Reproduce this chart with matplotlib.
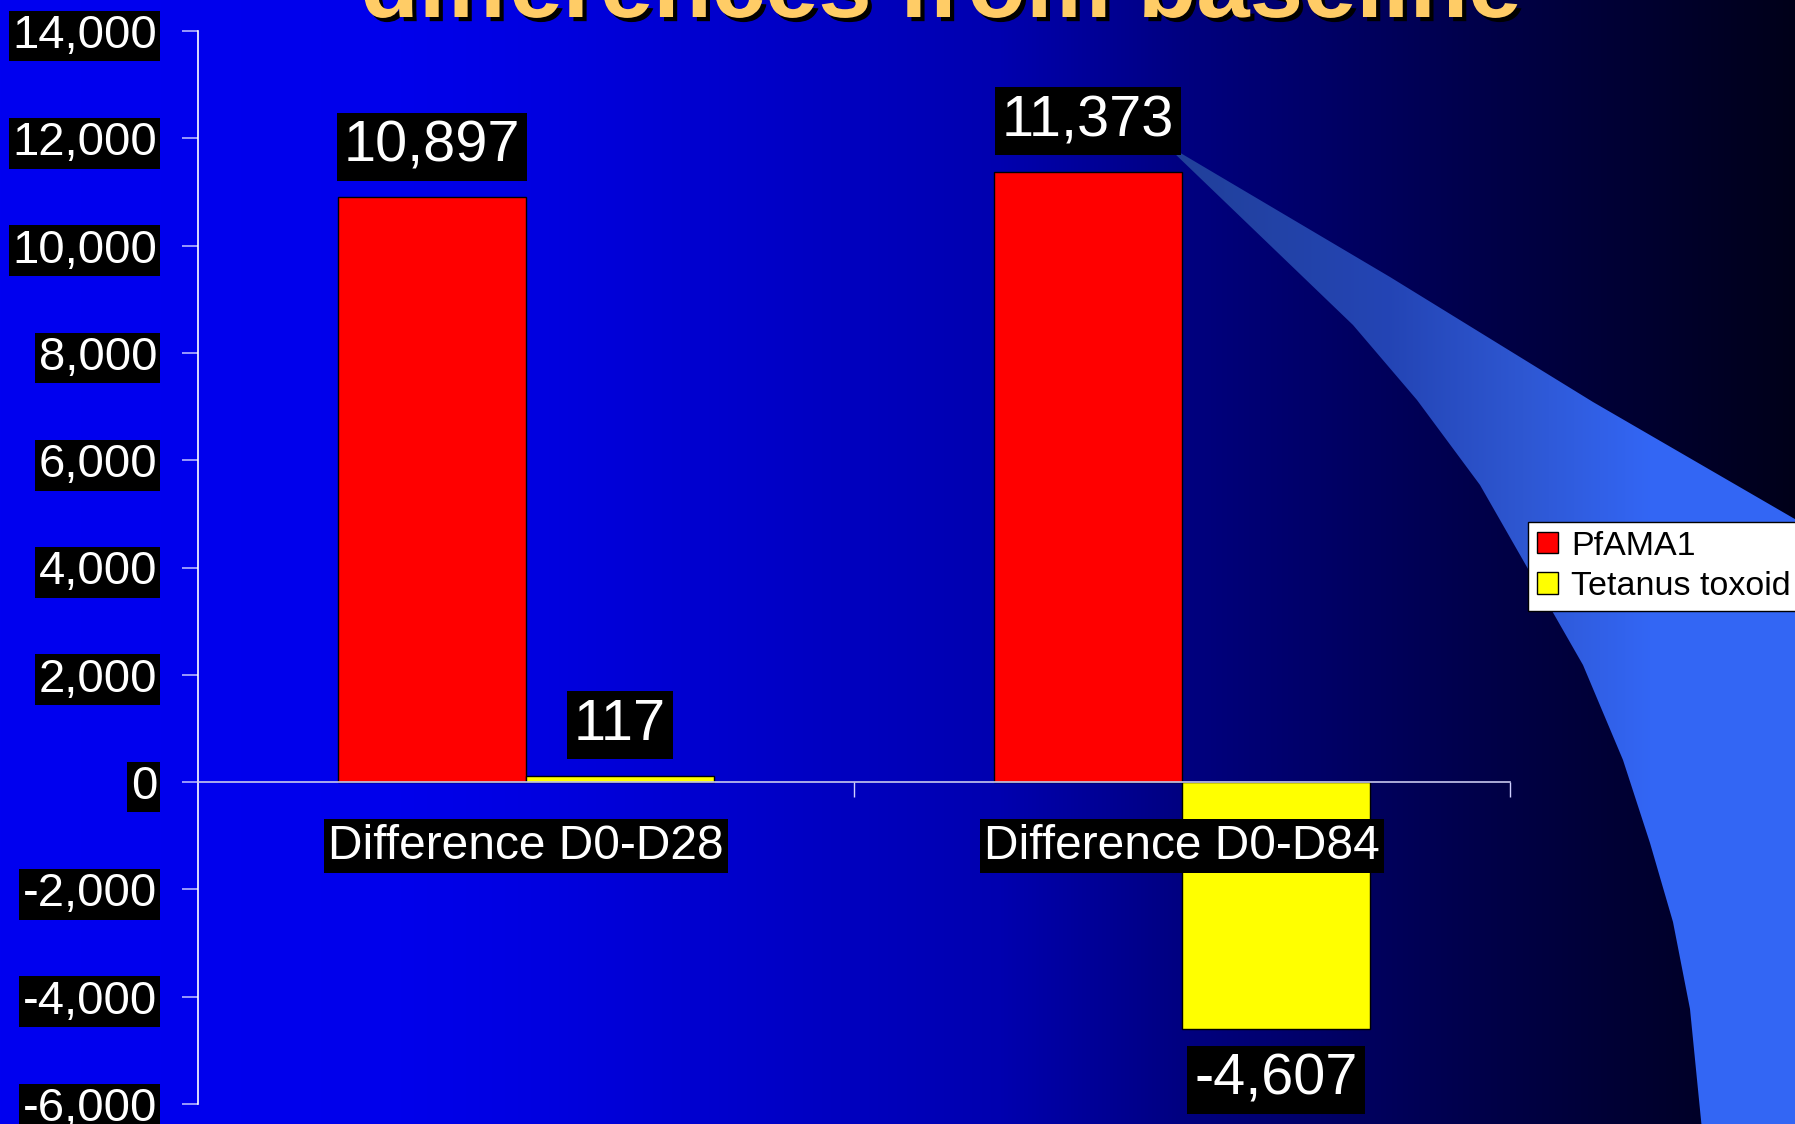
import matplotlib.pyplot as plt
import matplotlib.patheffects as pe
import numpy as np
from matplotlib.patches import Polygon
from matplotlib.ticker import FuncFormatter

plt.rcParams['font.family'] = ['Liberation Sans', 'DejaVu Sans']

# Data
categories = ['Difference D0-D28', 'Difference D0-D84']
pfama1 = [10897, 11373]
tetanus = [117, -4607]
series_names = ['PfAMA1', 'Tetanus toxoid']
yticks = [-6000, -4000, -2000, 0, 2000, 4000, 6000, 8000, 10000, 12000, 14000]
title = 'differences from baseline'

W, H = 1795, 1124
fig = plt.figure(figsize=(W / 100, H / 100), dpi=100)

# slide backdrop: blue fading to black, in pixel coordinates
bg = fig.add_axes([0, 0, 1, 1], zorder=0)
bg.axis('off')
xs = np.arange(W)
blue = np.interp(xs, [0, 400, 530, 1000, 1183, 1490, 1795],
                 [240, 235, 225, 175, 128, 72, 25]) / 255
grad = np.zeros((1, W, 3))
grad[0, :, 2] = blue
bg.imshow(grad, extent=(0, W, H, 0), aspect='auto')

# light blue swoosh on the right
upper = [(1172, 148), (1390, 277), (1593, 402), (1800, 522)]
lower = [(1172, 151), (1353, 325), (1417, 400), (1480, 485), (1583, 665),
         (1623, 760), (1650, 843), (1673, 922), (1690, 1009), (1702, 1130)]
outline = upper + [(1800, 1130)] + lower[::-1]
swoosh = Polygon(outline, closed=True, facecolor='none', edgecolor='none',
                 transform=bg.transData)
bg.add_patch(swoosh)
stops = [1170, 1390, 1520, 1650]
sw = np.zeros((1, W, 3))
sw[0, :, 0] = np.interp(xs, stops, [0.13, 0.14, 0.18, 0.20])
sw[0, :, 1] = np.interp(xs, stops, [0.25, 0.27, 0.34, 0.40])
sw[0, :, 2] = np.interp(xs, stops, [0.60, 0.71, 0.82, 0.96])
im = bg.imshow(sw, extent=(0, W, H, 0), aspect='auto', zorder=1)
im.set_clip_path(swoosh)
bg.set_xlim(0, W)
bg.set_ylim(H, 0)

# chart
ax = fig.add_axes([198 / W, 20 / H, 1312 / W, 1073 / H], zorder=1)
ax.patch.set_alpha(0)

x = np.arange(len(categories))
width = 0.2866
bars1 = ax.bar(x - width / 2, pfama1, width, color='#ff0000',
               edgecolor='black', linewidth=1, label=series_names[0])
bars2 = ax.bar(x + width / 2, tetanus, width, color='#ffff00',
               edgecolor='black', linewidth=1, label=series_names[1])
ax.set_xlim(-0.5, 1.5)
ax.set_ylim(-6000, 14000)

box = dict(boxstyle='square,pad=0.12', facecolor='black', edgecolor='none')


def autolabel(rects, values):
    for rect, v in zip(rects, values):
        up = v >= 0
        ax.annotate(f'{v:,}',
                    xy=(rect.get_x() + rect.get_width() / 2, v),
                    xytext=(0, 17 if up else -17),
                    textcoords='offset points',
                    ha='center', va='bottom' if up else 'top',
                    fontsize=41.5, color='white', bbox=box, zorder=4)


autolabel(bars1, pfama1)
autolabel(bars2, tetanus)

# axes styling
for side in ['top', 'right']:
    ax.spines[side].set_visible(False)
ax.spines['left'].set_color('white')
ax.spines['left'].set_linewidth(1.2)
ax.spines['bottom'].set_position(('data', 0))
ax.spines['bottom'].set_color('#c8c8ee')
ax.spines['bottom'].set_linewidth(1.2)

ax.set_yticks(yticks)
ax.yaxis.set_major_formatter(FuncFormatter(lambda v, p: f'{v:,.0f}'))
ax.tick_params(axis='y', direction='out', length=11.5, width=1.2,
               color='#b4b4ff', labelcolor='white', labelsize=34, pad=18)
for lab in ax.get_yticklabels():
    lab.set_bbox(dict(facecolor='black', edgecolor='none', pad=2.5))

ax.set_xticks([0.5, 1.5])
ax.set_xticklabels([])
ax.set_xticks(x, minor=True)
ax.set_xticklabels(categories, minor=True)
ax.tick_params(axis='x', which='major', direction='out', length=11,
               width=1, color='#d0d0ff')
ax.tick_params(axis='x', which='minor', length=0, labelcolor='white',
               labelsize=34.5, pad=30)
for lab in ax.get_xticklabels(minor=True):
    lab.set_bbox(dict(facecolor='black', edgecolor='none', pad=3))

# title, mostly above the visible area
fig.text(941 / W, 1 - 17 / H, title, ha='center', va='baseline',
         fontsize=69, fontweight='bold', color='#ffcc66',
         path_effects=[pe.withSimplePatchShadow(offset=(3, -3),
                                                shadow_rgbFace='black',
                                                alpha=1)])

leg = fig.legend(loc='upper left', bbox_to_anchor=(1528 / W, 1 - 522 / H),
                 fontsize=24.5, frameon=True, fancybox=False,
                 edgecolor='black', facecolor='white', framealpha=1,
                 borderpad=0.25, handlelength=0.62, handleheight=0.6,
                 handletextpad=0.4, labelspacing=0.28, borderaxespad=0)
leg.get_frame().set_linewidth(1)

fig.savefig('out.png', dpi=100)
